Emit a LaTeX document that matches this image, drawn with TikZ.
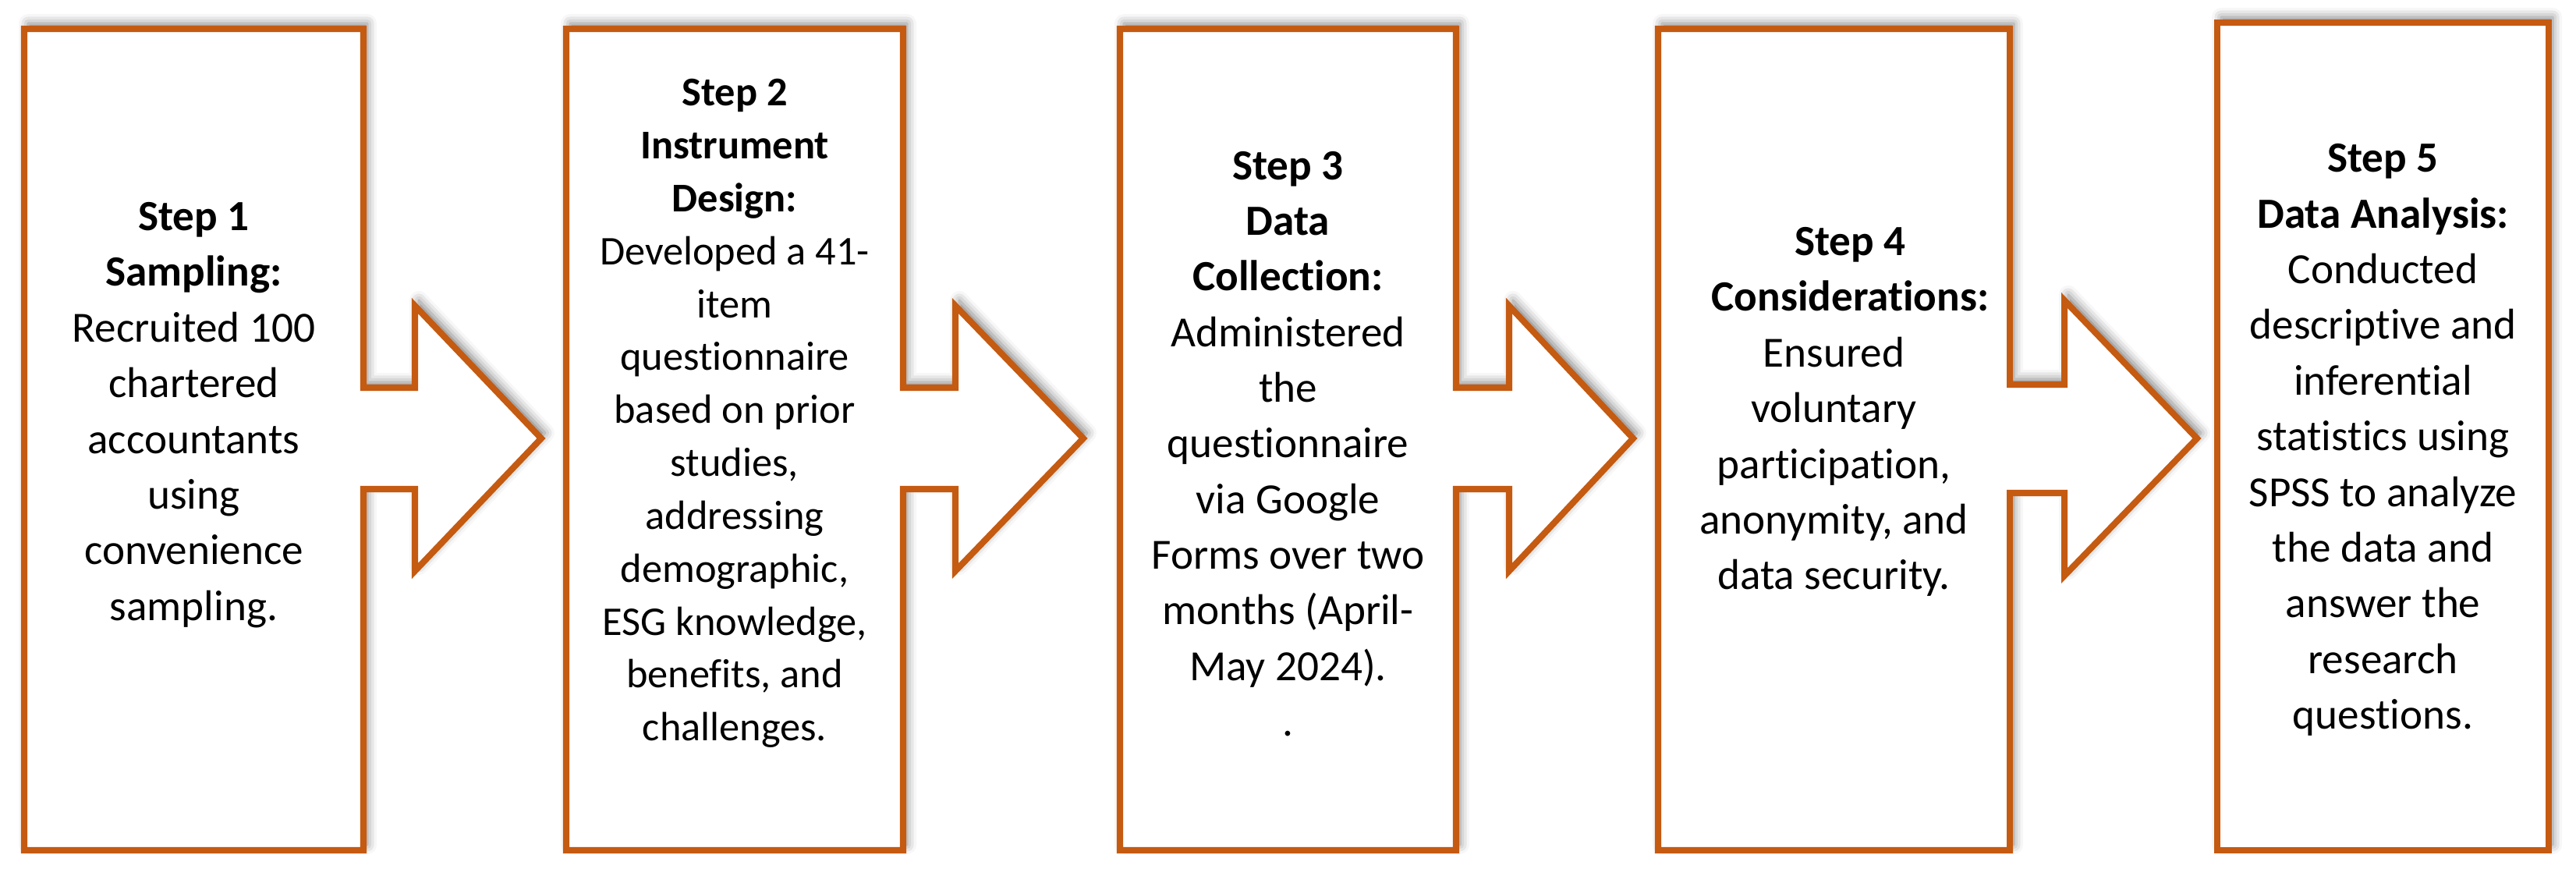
\documentclass[tikz,border=0pt]{standalone}
\usepackage{fontspec}
\setmainfont{Carlito}[Ligatures={NoCommon}]
\usepackage{xcolor}
\usetikzlibrary{shadows.blur}
\definecolor{stepline}{HTML}{C55A11}

\begin{document}
\begin{tikzpicture}[>=latex,
	stepshape/.style={draw=stepline,line width=2.3pt,fill=white,
		blur shadow={shadow xshift=0.05cm,shadow yshift=0.07cm,shadow blur radius=0.12cm,shadow opacity=50}},
	steptext/.style={align=center,inner sep=0pt,font=\fontsize{15.7}{20.3}\selectfont}]
			\useasboundingbox (0,0) rectangle (33.03,11.22);
			%五个步骤框
			\draw[stepshape] (0.31,10.85)--(4.66,10.85)--(4.66,6.25)--(5.32,6.25)--(5.32,7.30)--(6.94,5.60)--(5.32,3.90)--(5.32,4.95)--(4.66,4.95)--(4.66,0.32)--(0.31,0.32)--cycle;
			\draw[stepshape] (7.26,10.85)--(11.58,10.85)--(11.58,6.25)--(12.25,6.25)--(12.25,7.30)--(13.89,5.60)--(12.25,3.90)--(12.25,4.95)--(11.58,4.95)--(11.58,0.32)--(7.26,0.32)--cycle;
			\draw[stepshape] (14.36,10.85)--(18.67,10.85)--(18.67,6.25)--(19.35,6.25)--(19.35,7.30)--(20.94,5.60)--(19.35,3.90)--(19.35,4.95)--(18.67,4.95)--(18.67,0.32)--(14.36,0.32)--cycle;
			\draw[stepshape] (21.26,10.85)--(25.77,10.85)--(25.77,6.29)--(26.47,6.29)--(26.47,7.37)--(28.17,5.60)--(26.47,3.84)--(26.47,4.90)--(25.77,4.90)--(25.77,0.32)--(21.26,0.32)--cycle;
			\draw[stepshape] (28.43,0.32) rectangle (32.68,10.93);
			%文字
			\node[steptext] (s1) at (2.485,5.90) {\textbf{Step 1}\\\textbf{Sampling:}\\Recruited 100\\chartered\\accountants\\using\\convenience\\sampling.};
			\node[steptext,font=\fontsize{14.9}{19.3}\selectfont] (s2) at (9.42,5.92) {\textbf{Step 2}\\\textbf{Instrument}\\\textbf{Design:}\\Developed a 41-\\item\\questionnaire\\based on prior\\studies,\\addressing\\demographic,\\ESG knowledge,\\benefits, and\\challenges.};
			\node[steptext] (s3) at (16.515,5.53) {\textbf{Step 3}\\\textbf{Data}\\\textbf{Collection:}\\Administered\\the\\questionnaire\\via Google\\Forms over two\\months (April-\\May 2024).\\.};
			\node[steptext] (s4) at (23.515,5.94) {\hspace*{0.42cm}\textbf{Step 4}\\\hspace*{0.42cm}\textbf{Considerations:}\\Ensured\\voluntary\\participation,\\anonymity, and\\data security.};
			\node[steptext] (s5) at (30.555,5.58) {\textbf{Step 5}\\\textbf{Data Analysis:}\\Conducted\\descriptive and\\inferential\\statistics using\\SPSS to analyze\\the data and\\answer the\\research\\questions.};

		\end{tikzpicture}
\end{document}
